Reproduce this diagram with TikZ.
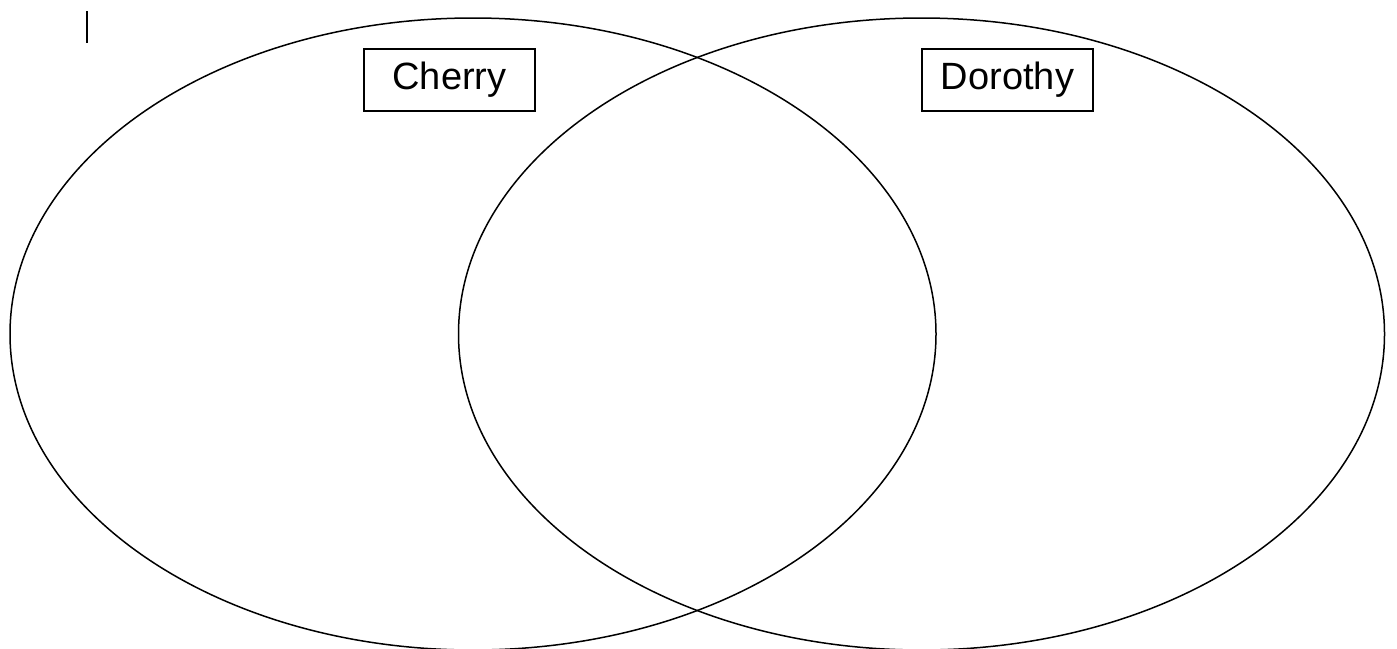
\documentclass[tikz,border=0pt]{standalone}
\usepackage{fontspec}
\setmainfont{Liberation Sans}
\begin{document}
\begin{tikzpicture}[x=1pt,y=-1pt,
  ring/.style={draw=black,line width=1.5pt},
  label box/.style={draw=black,line width=1.5pt,minimum width=171pt,minimum height=62pt,inner sep=0pt,font=\fontsize{38}{40}\selectfont},
  cursor/.style={draw=black,line width=2pt}]
\useasboundingbox (0,0) rectangle (1397,648);
\fill[white] (0,0) rectangle (1397,648);
\draw[ring] (473,334) ellipse [x radius=463, y radius=316];
\draw[ring] (921.5,334) ellipse [x radius=463, y radius=316];
\node[label box] (cherry) at (449.5,80) {\raisebox{-3pt}{Cherry}};
\node[label box] (dorothy) at (1007.5,80) {\raisebox{-3pt}{Dorothy}};
\coordinate (c1) at (87,11);
\coordinate (c2) at (87,43);
\draw[cursor] (c1) -- (c2);
\end{tikzpicture}
\end{document}
